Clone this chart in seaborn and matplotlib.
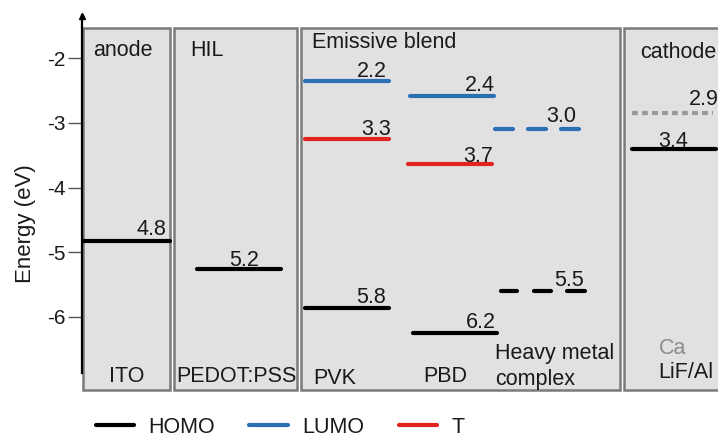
import matplotlib
matplotlib.use("Agg")
import matplotlib.pyplot as plt
import seaborn as sns
from matplotlib.patches import Rectangle
from matplotlib.lines import Line2D

# ---------------- data (energy levels, eV, as drawn) ----------------
homo_names = ["ITO", "PEDOT:PSS", "PVK", "PBD", "Heavy metal complex", "LiF/Al"]
homo_vals = [-4.83, -5.26, -5.86, -6.25, -5.60, -3.40]
homo_labels = ["4.8", "5.2", "5.8", "6.2", "5.5", "3.4"]

lumo_names = ["PVK", "PBD", "Heavy metal complex"]
lumo_vals = [-2.35, -2.58, -3.09]
lumo_labels = ["2.2", "2.4", "3.0"]

t_names = ["PVK", "PBD"]
t_vals = [-3.25, -3.63]
t_labels = ["3.3", "3.7"]

ca_val = -2.85
ca_label = "2.9"

yticks = [-2, -3, -4, -5, -6]

# ---------------- layout (pixel-like x units) ----------------
PX = 64.75          # pixels per eV
def e_of(ypx):      # convert pixel row to energy
    return -2 - (ypx - 58) / PX

homo_x = {"ITO": [(83, 170)], "PEDOT:PSS": [(197, 281)], "PVK": [(305, 389)],
          "PBD": [(413, 497)],
          "Heavy metal complex": [(501, 517), (534, 551), (567, 585)],
          "LiF/Al": [(632, 716)]}
lumo_x = {"PVK": [(305, 389)], "PBD": [(410, 494)],
          "Heavy metal complex": [(495, 513), (528, 546), (561, 579)]}
t_x = {"PVK": [(305, 389)], "PBD": [(408, 492)]}
ca_x = (632, 713)

homo_lab_pos = [(166, 12), (259, 9), (386, 10), (496, 11), (584, 11), (688, 7)]
lumo_lab_pos = [(387, 9), (495, 10), (576, 12)]
t_lab_pos = [(391, 9), (493, 7)]
ca_lab_pos = (719, 14)

boxes = [(83, 170), (174, 297), (301, 620), (624, 724)]
box_top, box_bot = e_of(28), e_of(390)

BLUE = "#2b70b4"
RED = "#e2231f"
BLACK = "#000000"
TXT = "#1a1a1a"
FS = 15.5

sns.set_theme(style="white")
plt.rcParams["font.family"] = ["Liberation Sans", "DejaVu Sans"]

fig = plt.figure(figsize=(7.18, 4.38), dpi=100)
ax = fig.add_axes([82 / 718, 43 / 438, 636 / 718, 382 / 438])
ax.set_xlim(82, 718)
ax.set_ylim(e_of(395), e_of(13))
ax.patch.set_alpha(0)

for x0, x1 in boxes:
    ax.add_patch(Rectangle((x0, box_bot), x1 - x0, box_top - box_bot,
                           facecolor="#e1e1e1", edgecolor="#7a7a7a",
                           linewidth=1.8, zorder=1, clip_on=True))

def draw_levels(names, vals, xmap, color, lw=3.0):
    for n, v in zip(names, vals):
        for x0, x1 in xmap[n]:
            sns.lineplot(x=[x0, x1], y=[v, v], ax=ax, color=color,
                         linewidth=lw, zorder=3, legend=False)

draw_levels(homo_names, homo_vals, homo_x, BLACK)
draw_levels(lumo_names, lumo_vals, lumo_x, BLUE)
draw_levels(t_names, t_vals, t_x, RED)
ax.plot(list(ca_x), [ca_val, ca_val], color="#9a9a9a", linewidth=3.0,
        linestyle=(0, (1.4, 1.0)), zorder=3, solid_capstyle="butt")

def draw_labels(vals, labels, pos):
    for v, l, (xr, off) in zip(vals, labels, pos):
        ax.text(xr, v + off / PX, l, ha="right", va="center", fontsize=FS,
                color=TXT, zorder=4)

draw_labels(homo_vals, homo_labels, homo_lab_pos)
draw_labels(lumo_vals, lumo_labels, lumo_lab_pos)
draw_labels(t_vals, t_labels, t_lab_pos)
draw_labels([ca_val], [ca_label], [ca_lab_pos])

# layer titles
for txt, x, y in [("anode", 93, 50), ("HIL", 190, 50),
                  ("Emissive blend", 312, 43), ("cathode", 640, 52)]:
    ax.text(x, e_of(y), txt, ha="left", va="center", fontsize=FS, color=TXT, zorder=4)

# material names
for txt, x, y in [("ITO", 127, 377), ("PEDOT:PSS", 236, 377), ("PVK", 335, 378),
                  ("PBD", 445, 377), ("LiF/Al", 686, 373)]:
    ax.text(x, e_of(y), txt, ha="center", va="center", fontsize=FS, color=TXT, zorder=4)
for txt, x, y in [("Heavy metal", 495, 354), ("complex", 495, 380)]:
    ax.text(x, e_of(y), txt, ha="left", va="center", fontsize=FS, color=TXT, zorder=4)
ax.text(673, e_of(348), "Ca", ha="center", va="center", fontsize=FS, color="#8c8c8c", zorder=4)

# axis styling
for s in ["top", "right", "bottom"]:
    ax.spines[s].set_visible(False)
ax.spines["left"].set_color("black")
ax.spines["left"].set_linewidth(1.6)
ax.spines["left"].set_bounds(e_of(373), e_of(15))
ax.spines["left"].set_zorder(5)
ax.plot([82], [e_of(16)], marker="^", color="black", markersize=5,
        clip_on=False, zorder=6)
ax.set_xticks([])
ax.set_yticks(yticks)
ax.set_yticklabels([str(t) for t in yticks])
ax.tick_params(axis="y", direction="out", length=10, width=1.0, color="#555555",
               labelsize=15, pad=2, labelcolor=TXT, left=True)
ax.set_ylabel("Energy (eV)", fontsize=FS + 0.5, color=TXT)
ax.yaxis.set_label_coords((36 - 82) / 636, 0.448)
ax.grid(False)

handles = [Line2D([], [], color=BLACK, lw=3.0),
           Line2D([], [], color=BLUE, lw=3.0),
           Line2D([], [], color=RED, lw=3.0)]
fig.legend(handles, ["HOMO", "LUMO", "T"], loc="center", ncol=3, frameon=False,
           fontsize=FS, handlelength=1.8, handletextpad=0.65, columnspacing=1.6,
           bbox_to_anchor=(0.39, 0.025), labelcolor=TXT)

fig.savefig("out.png", dpi=100)
